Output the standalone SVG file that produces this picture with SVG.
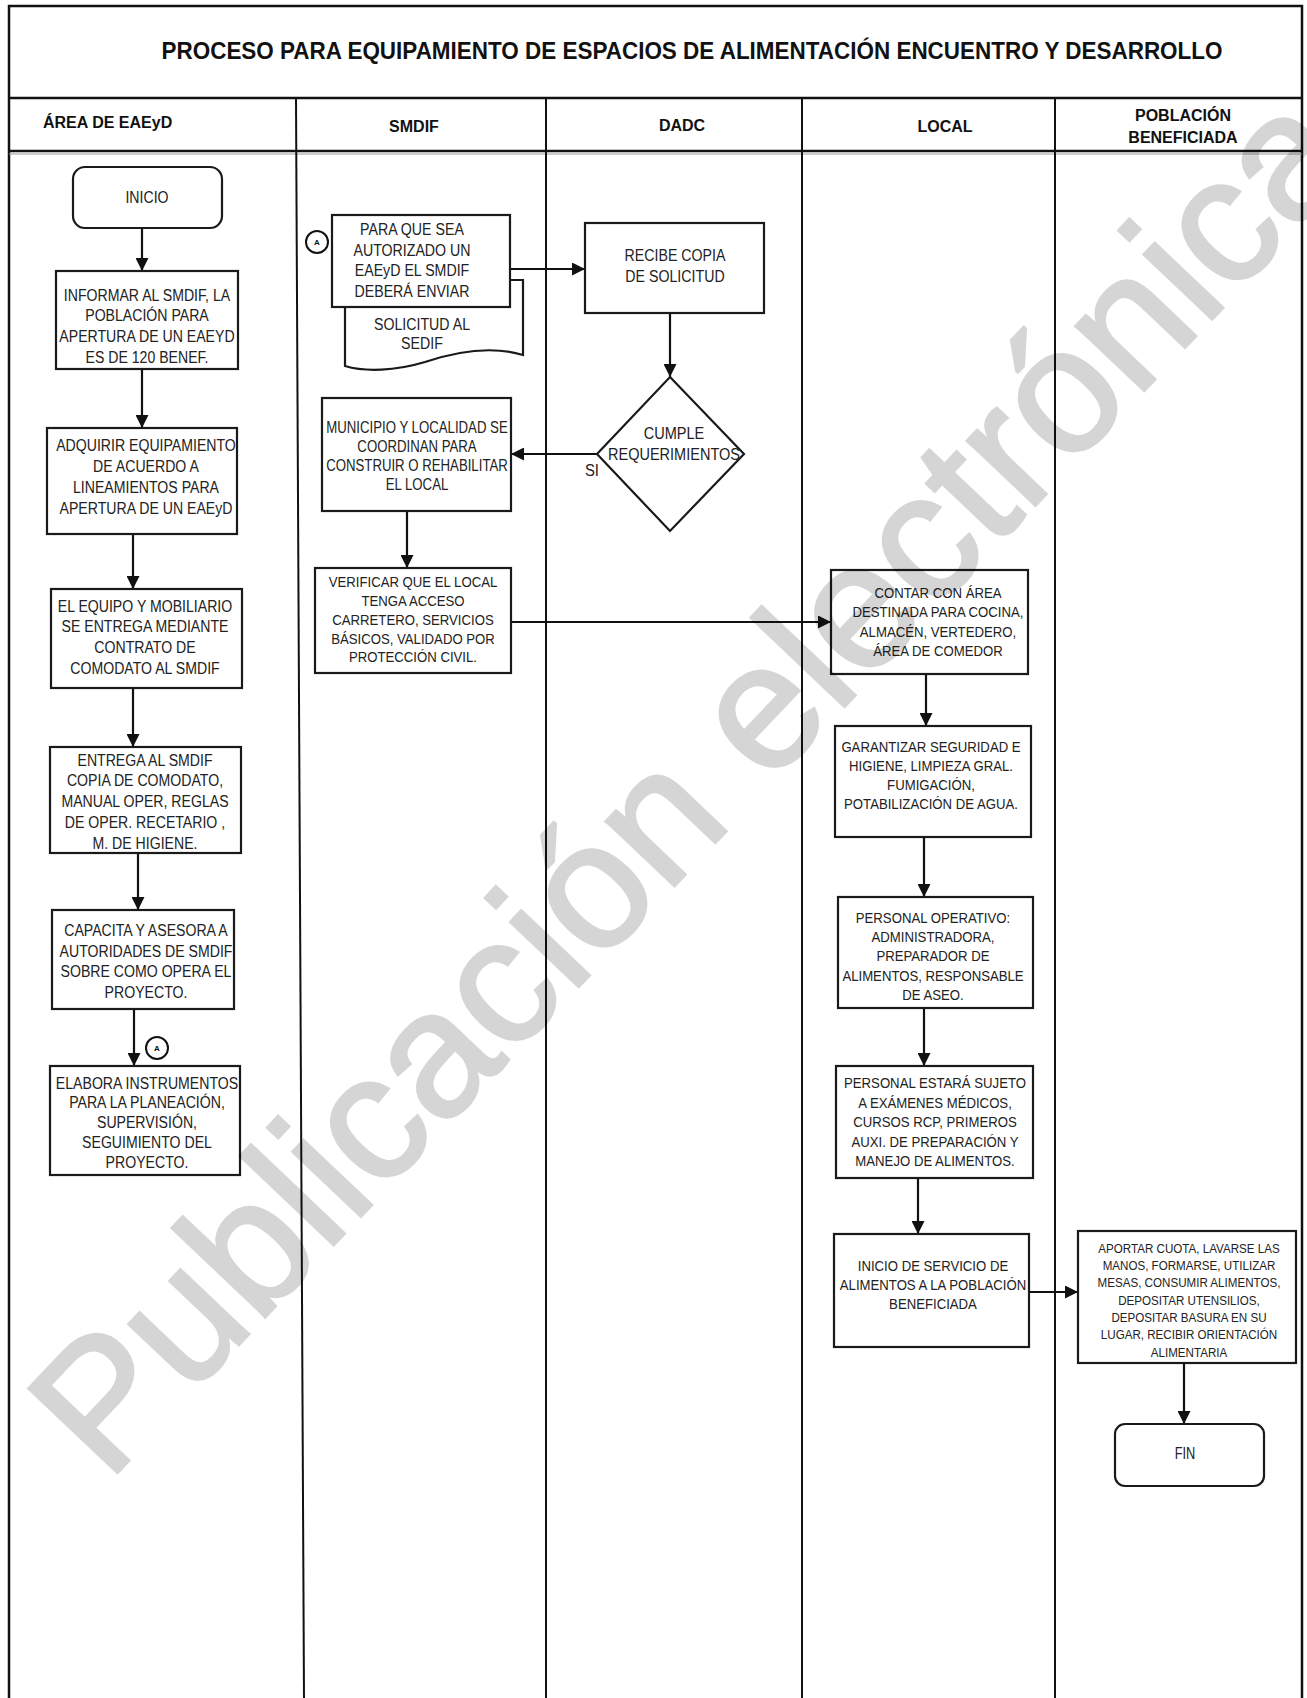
<svg xmlns="http://www.w3.org/2000/svg" width="1307" height="1698" viewBox="0 0 1307 1698">
<style>
.frame{fill:none;stroke:#111;stroke-width:2.5}
.lane{fill:none;stroke:#111;stroke-width:2}
.box{fill:#fff;stroke:#1a1a1a;stroke-width:2.2}
.conn{fill:none;stroke:#111;stroke-width:2.2;marker-end:url(#arr)}
.t{font-family:"Liberation Sans",Arial,sans-serif;fill:#222;text-anchor:middle}
.h{font-family:"Liberation Sans",Arial,sans-serif;font-weight:bold;fill:#111}
.ca{fill:#fff;stroke:#111;stroke-width:2}
.cat{font-family:"Liberation Sans",Arial,sans-serif;font-size:8px;font-weight:bold;text-anchor:middle;fill:#111}
</style>
<defs>
<marker id="arr" viewBox="0 0 10 10" refX="10" refY="5" markerWidth="13" markerHeight="13" markerUnits="userSpaceOnUse" orient="auto">
<path d="M0,0 L10,5 L0,10 Z" fill="#111"/>
</marker>
</defs>
<rect width="1307" height="1698" fill="#fff"/>

<g id="frame">
<path class="frame" d="M9,1698 V6 H1302 V1698"/>
<line class="frame" x1="9" y1="98" x2="1302" y2="98"/>
<line class="frame" x1="9" y1="151" x2="1302" y2="151"/>
<line x1="9" y1="154" x2="1302" y2="154" stroke="#999" stroke-width="1"/>
<line class="lane" x1="296" y1="98" x2="304" y2="1698"/>
<line class="lane" x1="546" y1="98" x2="546" y2="1698"/>
<line class="lane" x1="802" y1="98" x2="802" y2="1698"/>
<line class="lane" x1="1055" y1="98" x2="1055" y2="1698"/>
<text class="h" x="692" y="58.6" font-size="24" text-anchor="middle" textLength="1061" lengthAdjust="spacingAndGlyphs">PROCESO PARA EQUIPAMIENTO DE ESPACIOS DE ALIMENTACIÓN ENCUENTRO Y DESARROLLO</text>
<text class="h" x="43" y="128" font-size="16">ÁREA DE EAEyD</text>
<text class="h" x="414" y="132" font-size="16" text-anchor="middle">SMDIF</text>
<text class="h" x="682" y="131" font-size="16" text-anchor="middle">DADC</text>
<text class="h" x="945" y="132" font-size="16" text-anchor="middle">LOCAL</text>
<text class="h" x="1183" y="121" font-size="16" text-anchor="middle">POBLACIÓN</text>
<text class="h" x="1183" y="143" font-size="16" text-anchor="middle">BENEFICIADA</text>
</g>

<g id="connectors">
<path class="conn" d="M142,228 V271"/>
<path class="conn" d="M142,369 V428"/>
<path class="conn" d="M133,534 V589"/>
<path class="conn" d="M133,688 V747"/>
<path class="conn" d="M138,853 V910"/>
<path class="conn" d="M134,1009 V1066"/>
<path class="conn" d="M510,269 H585"/>
<path class="conn" d="M670,313 V377"/>
<path class="conn" d="M597,454 H511"/>
<path class="conn" d="M407,511 V568"/>
<path class="conn" d="M511,622 H831"/>
<path class="conn" d="M926,674 V726"/>
<path class="conn" d="M924,837 V897"/>
<path class="conn" d="M924,1008 V1066"/>
<path class="conn" d="M918,1178 V1234"/>
<path class="conn" d="M1029,1292 H1078"/>
<path class="conn" d="M1184,1363 V1424"/>
</g>

<g id="inicio">
<rect class="box" x="73" y="167" width="149" height="61" rx="12"/>
<g class="t" font-size="17" transform="matrix(0.83 0 0 1 24.99 0)"><text x="147" y="203">INICIO</text></g>
</g>

<g id="informar">
<rect class="box" x="56" y="271" width="182" height="98"/>
<g class="t" font-size="17" transform="matrix(0.83 0 0 1 24.99 0)">
<text x="147" y="301">INFORMAR AL SMDIF, LA</text>
<text x="147" y="321">POBLACIÓN PARA</text>
<text x="147" y="342">APERTURA DE UN  EAEYD</text>
<text x="147" y="363">ES DE 120 BENEF.</text>
</g>
</g>

<g id="adquirir">
<rect class="box" x="47" y="428" width="190" height="106"/>
<g class="t" font-size="17" transform="matrix(0.83 0 0 1 24.82 0)">
<text x="146" y="451">ADQUIRIR EQUIPAMIENTO</text>
<text x="146" y="472">DE ACUERDO A</text>
<text x="146" y="493">LINEAMIENTOS PARA</text>
<text x="146" y="514">APERTURA DE UN EAEyD</text>
</g>
</g>

<g id="equipo">
<rect class="box" x="51" y="589" width="191" height="99"/>
<g class="t" font-size="17" transform="matrix(0.83 0 0 1 24.65 0)">
<text x="145" y="612">EL EQUIPO Y MOBILIARIO</text>
<text x="145" y="632">SE ENTREGA MEDIANTE</text>
<text x="145" y="653">CONTRATO DE</text>
<text x="145" y="674">COMODATO AL SMDIF</text>
</g>
</g>

<g id="entrega">
<rect class="box" x="50" y="747" width="191" height="106"/>
<g class="t" font-size="17" transform="matrix(0.83 0 0 1 24.65 0)">
<text x="145" y="766">ENTREGA AL SMDIF</text>
<text x="145" y="786">COPIA DE COMODATO,</text>
<text x="145" y="807">MANUAL OPER, REGLAS</text>
<text x="145" y="828">DE OPER. RECETARIO ,</text>
<text x="145" y="849">M. DE HIGIENE.</text>
</g>
</g>

<g id="capacita">
<rect class="box" x="52" y="910" width="182" height="99"/>
<g class="t" font-size="17" transform="matrix(0.83 0 0 1 24.82 0)">
<text x="146" y="936">CAPACITA Y ASESORA A</text>
<text x="146" y="957">AUTORIDADES DE SMDIF</text>
<text x="146" y="977">SOBRE COMO OPERA EL</text>
<text x="146" y="998">PROYECTO.</text>
</g>
</g>

<g id="conector-a-1">
<circle class="ca" cx="157" cy="1048" r="11"/>
<text class="cat" x="157" y="1051">A</text>
</g>

<g id="elabora">
<rect class="box" x="50" y="1066" width="190" height="109"/>
<g class="t" font-size="17" transform="matrix(0.83 0 0 1 24.99 0)">
<text x="147" y="1089">ELABORA INSTRUMENTOS</text>
<text x="147" y="1108">PARA LA PLANEACIÓN,</text>
<text x="147" y="1128">SUPERVISIÓN,</text>
<text x="147" y="1148">SEGUIMIENTO DEL</text>
<text x="147" y="1168">PROYECTO.</text>
</g>
</g>

<g id="conector-a-2">
<circle class="ca" cx="317" cy="242" r="11"/>
<text class="cat" x="317" y="245">A</text>
</g>

<g id="solicitud">
<path class="box" d="M345,280 H523 V355 C490,345 455,352 425,362 C395,371 365,372 345,366 Z"/>
<g class="t" font-size="16.5" transform="matrix(0.86 0 0 1 59.08 0)">
<text x="422" y="330">SOLICITUD AL</text>
<text x="422" y="349">SEDIF</text>
</g>
</g>

<g id="para-que-sea">
<rect class="box" x="332" y="215" width="178" height="92"/>
<g class="t" font-size="16.5" transform="matrix(0.86 0 0 1 57.68 0)">
<text x="412" y="235">PARA  QUE SEA</text>
<text x="412" y="256">AUTORIZADO UN</text>
<text x="412" y="276">EAEyD  EL SMDIF</text>
<text x="412" y="297">DEBERÁ ENVIAR</text>
</g>
</g>

<g id="recibe">
<rect class="box" x="585" y="223" width="179" height="90"/>
<g class="t" font-size="16.5" transform="matrix(0.86 0 0 1 94.5 0)">
<text x="675" y="261">RECIBE COPIA</text>
<text x="675" y="282">DE SOLICITUD</text>
</g>
</g>

<g id="cumple">
<path class="box" d="M670,377 L744,454 L670,531 L597,454 Z"/>
<g class="t" font-size="16.5" transform="matrix(0.88 0 0 1 80.88 0)">
<text x="674" y="439">CUMPLE</text>
<text x="674" y="460">REQUERIMIENTOS</text>
</g>
<g class="t" font-size="16.5" transform="matrix(0.9 0 0 1 59.2 0)"><text x="592" y="476">SI</text></g>
</g>

<g id="municipio">
<rect class="box" x="322" y="398" width="189" height="113"/>
<g class="t" font-size="16.5" transform="matrix(0.8 0 0 1 83.4 0)">
<text x="417" y="433">MUNICIPIO Y LOCALIDAD SE</text>
<text x="417" y="452">COORDINAN PARA</text>
<text x="417" y="471">CONSTRUIR O REHABILITAR</text>
<text x="417" y="490">EL LOCAL</text>
</g>
</g>

<g id="verificar">
<rect class="box" x="315" y="568" width="196" height="105"/>
<g class="t" font-size="15.5" transform="matrix(0.85 0 0 1 61.95 0)">
<text x="413" y="587.5">VERIFICAR QUE EL LOCAL</text>
<text x="413" y="606">TENGA ACCESO</text>
<text x="413" y="625.5">CARRETERO, SERVICIOS</text>
<text x="413" y="644">BÁSICOS, VALIDADO POR</text>
<text x="413" y="662.5">PROTECCIÓN CIVIL.</text>
</g>
</g>

<g id="contar">
<rect class="box" x="831" y="570" width="197" height="104"/>
<g class="t" font-size="15.5" transform="matrix(0.85 0 0 1 140.7 0)">
<text x="938" y="598.5">CONTAR CON ÁREA</text>
<text x="938" y="617.5">DESTINADA PARA COCINA,</text>
<text x="938" y="637">ALMACÉN, VERTEDERO,</text>
<text x="938" y="656">ÁREA DE COMEDOR</text>
</g>
</g>

<g id="garantizar">
<rect class="box" x="835" y="726" width="196" height="111"/>
<g class="t" font-size="15.5" transform="matrix(0.85 0 0 1 139.65 0)">
<text x="931" y="752.5">GARANTIZAR SEGURIDAD E</text>
<text x="931" y="771.5">HIGIENE, LIMPIEZA GRAL.</text>
<text x="931" y="790.5">FUMIGACIÓN,</text>
<text x="931" y="809.5">POTABILIZACIÓN DE AGUA.</text>
</g>
</g>

<g id="personal-operativo">
<rect class="box" x="838" y="897" width="195" height="111"/>
<g class="t" font-size="15.5" transform="matrix(0.85 0 0 1 139.95 0)">
<text x="933" y="923.5">PERSONAL OPERATIVO:</text>
<text x="933" y="942.5">ADMINISTRADORA,</text>
<text x="933" y="961.5">PREPARADOR DE</text>
<text x="933" y="981">ALIMENTOS, RESPONSABLE</text>
<text x="933" y="1000.5">DE ASEO.</text>
</g>
</g>

<g id="personal-sujeto">
<rect class="box" x="836" y="1066" width="197" height="112"/>
<g class="t" font-size="15.5" transform="matrix(0.85 0 0 1 140.25 0)">
<text x="935" y="1088.5">PERSONAL ESTARÁ SUJETO</text>
<text x="935" y="1108">A EXÁMENES MÉDICOS,</text>
<text x="935" y="1127.5">CURSOS RCP, PRIMEROS</text>
<text x="935" y="1147">AUXI. DE PREPARACIÓN Y</text>
<text x="935" y="1166.5">MANEJO DE ALIMENTOS.</text>
</g>
</g>

<g id="inicio-servicio">
<rect class="box" x="834" y="1234" width="195" height="113"/>
<g class="t" font-size="15.5" transform="matrix(0.85 0 0 1 139.95 0)">
<text x="933" y="1271.5">INICIO DE SERVICIO DE</text>
<text x="933" y="1290.5">ALIMENTOS A LA POBLACIÓN</text>
<text x="933" y="1309.5">BENEFICIADA</text>
</g>
</g>

<g id="aportar">
<rect class="box" x="1078" y="1231" width="218" height="132"/>
<g class="t" font-size="13.5" transform="matrix(0.86 0 0 1 166.46 0)">
<text x="1189" y="1252.8">APORTAR CUOTA, LAVARSE LAS</text>
<text x="1189" y="1270.1">MANOS, FORMARSE, UTILIZAR</text>
<text x="1189" y="1287.4">MESAS, CONSUMIR ALIMENTOS,</text>
<text x="1189" y="1304.7">DEPOSITAR UTENSILIOS,</text>
<text x="1189" y="1322">DEPOSITAR BASURA EN SU</text>
<text x="1189" y="1339.3">LUGAR, RECIBIR ORIENTACIÓN</text>
<text x="1189" y="1356.6">ALIMENTARIA</text>
</g>
</g>

<g id="fin">
<rect class="box" x="1115" y="1424" width="149" height="62" rx="10"/>
<g class="t" font-size="16" transform="matrix(0.8 0 0 1 237 0)"><text x="1185" y="1459">FIN</text></g>
</g>

<g id="marca-agua" opacity="0.16">
<text x="734" y="823" transform="rotate(-46.5 734 823)" font-family="'Liberation Sans',Arial,sans-serif" font-size="178" text-anchor="middle" fill="#000" stroke="#000" stroke-width="3">Publicación electrónica</text>
</g>
</svg>
